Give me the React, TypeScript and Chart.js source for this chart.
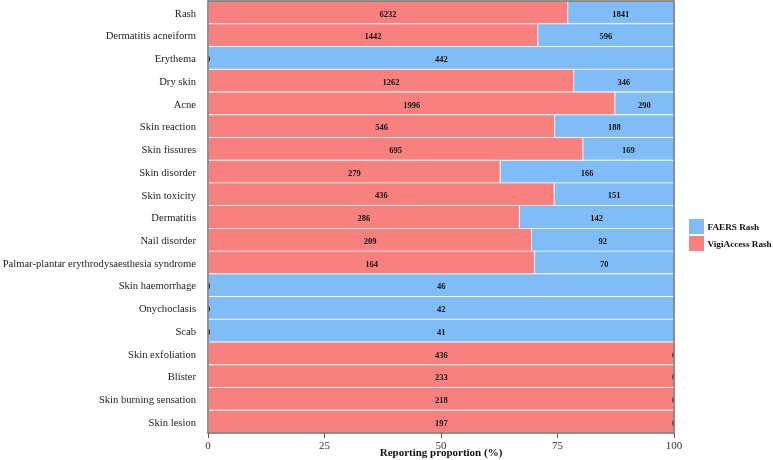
import React, { useEffect, useRef } from "react";
import { Chart, registerables } from "chart.js";

Chart.register(...registerables);

const categories = [
  "Rash",
  "Dermatitis acneiform",
  "Erythema",
  "Dry skin",
  "Acne",
  "Skin reaction",
  "Skin fissures",
  "Skin disorder",
  "Skin toxicity",
  "Dermatitis",
  "Nail disorder",
  "Palmar-plantar erythrodysaesthesia syndrome",
  "Skin haemorrhage",
  "Onychoclasis",
  "Scab",
  "Skin exfoliation",
  "Blister",
  "Skin burning sensation",
  "Skin lesion",
];

const vigiAccessRash = [6232, 1442, 0, 1262, 1996, 546, 695, 279, 436, 286, 209, 164, 0, 0, 0, 436, 233, 218, 197];
const faersRash = [1841, 596, 442, 346, 290, 188, 169, 166, 151, 142, 92, 70, 46, 42, 41, 0, 0, 0, 0];
const xTickValues = [0, 25, 50, 75, 100];

const RED = "#F8807F";
const BLUE = "#80BDF7";
const FONT = "'Liberation Serif', 'Times New Roman', serif";

const toPct = (a: number[], b: number[]) =>
  a.map((v, i) => {
    const t = v + b[i];
    return t === 0 ? 0 : (v / t) * 100;
  });

const labelPlugin = {
  id: "segLabels",
  afterDatasetsDraw(chart: any) {
    const { ctx, chartArea } = chart;
    ctx.save();
    ctx.beginPath();
    ctx.rect(chartArea.left, chartArea.top, chartArea.right - chartArea.left, chartArea.bottom - chartArea.top);
    ctx.clip();
    ctx.font = `bold 8.5px ${FONT}`;
    ctx.fillStyle = "#111";
    ctx.textAlign = "center";
    ctx.textBaseline = "middle";
    chart.data.datasets.forEach((ds: any, di: number) => {
      const meta = chart.getDatasetMeta(di);
      meta.data.forEach((el: any, i: number) => {
        const x = (el.x + el.base) / 2;
        ctx.fillText(String(ds.counts[i]), x, el.y + 2);
      });
    });
    ctx.restore();
  },
};

const framePlugin = {
  id: "frame",
  afterDraw(chart: any) {
    const { ctx, chartArea } = chart;
    ctx.save();
    ctx.strokeStyle = "#707070";
    ctx.lineWidth = 1.5;
    ctx.strokeRect(chartArea.left, chartArea.top, chartArea.right - chartArea.left, chartArea.bottom - chartArea.top);
    // legend
    const items = [
      { label: "FAERS Rash", color: BLUE },
      { label: "VigiAccess Rash", color: RED },
    ];
    ctx.font = `bold 9.2px ${FONT}`;
    ctx.textAlign = "left";
    ctx.textBaseline = "middle";
    items.forEach((it, i) => {
      const y = 219 + i * 17;
      ctx.fillStyle = it.color;
      ctx.fillRect(689, y, 15, 15);
      ctx.fillStyle = "#111";
      ctx.fillText(it.label, 707.5, y + 8.5);
    });
    ctx.restore();
  },
};

export default function App() {
  const ref = useRef<HTMLCanvasElement>(null);
  useEffect(() => {
    if (!ref.current) return;
    const chart = new Chart(ref.current, {
      type: "bar",
      data: {
        labels: categories,
        datasets: [
          {
            label: "VigiAccess Rash",
            data: toPct(vigiAccessRash, faersRash),
            counts: vigiAccessRash,
            backgroundColor: RED,
            borderColor: "rgba(255,255,255,0.9)",
            borderWidth: 0.8,
            borderSkipped: false,
            barPercentage: 1,
            categoryPercentage: 1,
          } as any,
          {
            label: "FAERS Rash",
            data: toPct(faersRash, vigiAccessRash),
            counts: faersRash,
            backgroundColor: BLUE,
            borderColor: "rgba(255,255,255,0.9)",
            borderWidth: 0.8,
            borderSkipped: false,
            barPercentage: 1,
            categoryPercentage: 1,
          } as any,
        ],
      },
      options: {
        indexAxis: "y",
        responsive: false,
        animation: false,
        layout: { padding: { top: 1, right: 99, left: 0, bottom: 0 } },
        plugins: {
          legend: { display: false },
          tooltip: { enabled: false },
        },
        scales: {
          x: {
            stacked: true,
            min: 0,
            max: 100,
            afterBuildTicks: (s: any) => {
              s.ticks = xTickValues.map((v) => ({ value: v }));
            },
            afterFit: (s: any) => {
              s.height = 27;
            },
            ticks: {
              font: { family: FONT, size: 11 },
              color: "#333",
              padding: 1.5,
              maxRotation: 0,
            },
            grid: { drawOnChartArea: false, drawTicks: true, tickLength: 5, color: "#555", lineWidth: 1 },
            border: { display: false },
            title: {
              display: true,
              text: "Reporting proportion (%)",
              font: { family: FONT, size: 11, weight: "bold" },
              color: "#111",
              padding: { top: -1.5, bottom: 0 },
            },
          },
          y: {
            stacked: true,
            afterFit: (s: any) => {
              s.width = 208;
              s.paddingTop = 0;
              s.paddingBottom = 0;
            },
            ticks: {
              font: { family: FONT, size: 10.6 },
              color: "#222",
              padding: 12,
              labelOffset: 1.5,
              autoSkip: false,
            },
            grid: { display: false, drawTicks: false },
            border: { display: false },
          },
        },
      } as any,
      plugins: [labelPlugin, framePlugin],
    });
    return () => chart.destroy();
  }, []);
  return (
    <div style={{ position: "fixed", left: 0, top: 0, width: 773, height: 460, background: "#fff" }}>
      <canvas ref={ref} width={773} height={460} />
    </div>
  );
}
